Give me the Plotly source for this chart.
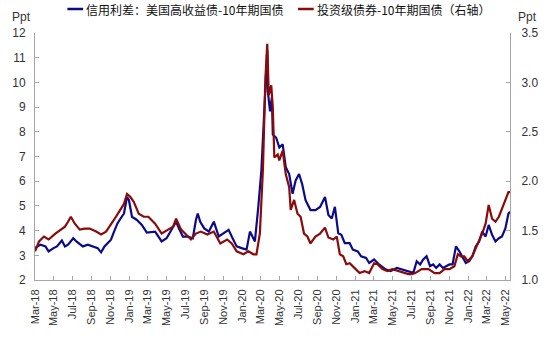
import plotly.graph_objects as go

# 信用利差：美国高收益债-10年期国债 (左轴, Ppt)
hy_dates = [
    "2018-03-01", "2018-03-19", "2018-04-04", "2018-04-14", "2018-04-30", "2018-05-11",
    "2018-05-27", "2018-06-06", "2018-06-16", "2018-07-03", "2018-07-13", "2018-08-03",
    "2018-08-19", "2018-09-04", "2018-09-20", "2018-10-01", "2018-10-12", "2018-10-22",
    "2018-11-02", "2018-11-12", "2018-11-23", "2018-12-03", "2018-12-14", "2018-12-24",
    "2018-12-30", "2019-01-09", "2019-01-25", "2019-02-10", "2019-02-26", "2019-03-25",
    "2019-04-15", "2019-05-01", "2019-05-16", "2019-06-01", "2019-06-12", "2019-06-23",
    "2019-07-09", "2019-07-25", "2019-08-04", "2019-08-10", "2019-08-18", "2019-08-31",
    "2019-09-15", "2019-10-01", "2019-10-17", "2019-11-02", "2019-11-18", "2019-11-28",
    "2019-12-14", "2019-12-30", "2020-01-15", "2020-01-26", "2020-02-11", "2020-02-22",
    "2020-03-03", "2020-03-13", "2020-03-22", "2020-03-24", "2020-03-31", "2020-04-06",
    "2020-04-09", "2020-04-20", "2020-04-30", "2020-05-11", "2020-05-21", "2020-06-01",
    "2020-06-12", "2020-06-22", "2020-07-03", "2020-07-13", "2020-07-24", "2020-08-09",
    "2020-08-25", "2020-09-09", "2020-09-25", "2020-10-06", "2020-10-17", "2020-10-27",
    "2020-11-07", "2020-11-17", "2020-11-28", "2020-12-14", "2020-12-24", "2021-01-09",
    "2021-01-20", "2021-02-05", "2021-02-15", "2021-03-03", "2021-03-19", "2021-04-09",
    "2021-04-25", "2021-05-16", "2021-06-01", "2021-06-22", "2021-07-08", "2021-07-19",
    "2021-07-30", "2021-08-09", "2021-08-20", "2021-08-31", "2021-09-10", "2021-09-20",
    "2021-10-01", "2021-10-12", "2021-10-22", "2021-11-02", "2021-11-12", "2021-11-23",
    "2021-12-04", "2021-12-14", "2021-12-25", "2022-01-05", "2022-01-15", "2022-01-26",
    "2022-02-06", "2022-02-16", "2022-02-27", "2022-03-09", "2022-03-20", "2022-03-31",
    "2022-04-11", "2022-04-21", "2022-05-02", "2022-05-12", "2022-05-17",
]
hy_spread = [
    3.29, 3.43, 3.36, 3.16, 3.29, 3.36,
    3.60, 3.36, 3.43, 3.69, 3.56, 3.36,
    3.43, 3.36, 3.29, 3.12, 3.36, 3.49,
    3.63, 3.96, 4.29, 4.49, 4.69, 5.36,
    5.24, 4.56, 4.43, 4.23, 3.92, 3.96,
    3.56, 3.69, 4.03, 4.36, 4.03, 3.76,
    3.76, 3.69, 4.43, 4.69, 4.36, 4.09,
    3.96, 4.36, 3.76, 3.89, 4.03, 3.76,
    3.36, 3.29, 3.23, 3.96, 3.56, 4.96,
    6.43, 9.00, 11.30, 9.63, 8.83, 9.40,
    7.89, 7.76, 7.36, 7.49, 6.56, 6.29,
    5.49, 6.03, 6.29, 5.89, 5.23, 4.83,
    4.83, 4.96, 5.36, 4.63, 4.49, 4.96,
    3.89, 3.83, 3.49, 3.49, 3.23, 3.16,
    2.96, 2.89, 2.69, 2.83, 2.63, 2.43,
    2.36, 2.49, 2.43, 2.36, 2.29, 2.76,
    2.63, 2.83, 2.96, 2.56, 2.63, 2.49,
    2.63, 2.49, 2.56, 2.63, 2.63, 3.36,
    3.16, 2.96, 2.69, 2.76, 2.96, 3.36,
    3.56, 3.96, 3.76, 4.23, 3.83, 3.56,
    3.69, 3.76, 4.09, 4.69, 4.76,
]

# 投资级债券-10年期国债 (右轴, Ppt)
ig_dates = [
    "2018-03-01", "2018-03-14", "2018-03-30", "2018-04-14", "2018-05-06", "2018-05-22",
    "2018-06-06", "2018-06-16", "2018-06-25", "2018-07-08", "2018-07-24", "2018-08-09",
    "2018-08-25", "2018-09-15", "2018-10-01", "2018-10-17", "2018-11-02", "2018-11-12",
    "2018-11-28", "2018-12-14", "2018-12-24", "2019-01-04", "2019-01-15", "2019-01-31",
    "2019-02-16", "2019-03-03", "2019-03-25", "2019-04-15", "2019-05-06", "2019-05-22",
    "2019-06-01", "2019-06-17", "2019-07-03", "2019-07-19", "2019-08-04", "2019-08-20",
    "2019-09-10", "2019-10-01", "2019-10-22", "2019-11-13", "2019-11-28", "2019-12-14",
    "2020-01-05", "2020-01-21", "2020-02-06", "2020-02-16", "2020-02-27", "2020-03-08",
    "2020-03-16", "2020-03-22", "2020-03-27", "2020-04-04", "2020-04-09", "2020-04-14",
    "2020-04-25", "2020-04-30", "2020-05-11", "2020-05-21", "2020-06-01", "2020-06-06",
    "2020-06-17", "2020-06-28", "2020-07-08", "2020-07-19", "2020-07-30", "2020-08-09",
    "2020-08-25", "2020-09-09", "2020-09-25", "2020-10-06", "2020-10-22", "2020-11-02",
    "2020-11-12", "2020-11-23", "2020-12-03", "2020-12-14", "2020-12-30", "2021-01-15",
    "2021-01-31", "2021-02-15", "2021-03-03", "2021-03-14", "2021-03-30", "2021-04-15",
    "2021-05-01", "2021-05-22", "2021-06-12", "2021-06-22", "2021-07-03", "2021-07-14",
    "2021-08-04", "2021-08-26", "2021-09-15", "2021-10-01", "2021-10-17", "2021-11-02",
    "2021-11-18", "2021-11-29", "2021-12-09", "2021-12-20", "2021-12-31", "2022-01-15",
    "2022-01-26", "2022-02-06", "2022-02-16", "2022-02-27", "2022-03-09", "2022-03-20",
    "2022-03-31", "2022-04-11", "2022-04-21", "2022-05-02", "2022-05-12", "2022-05-17",
]
ig_spread = [
    1.29, 1.39, 1.44, 1.41, 1.47, 1.51,
    1.54, 1.59, 1.64, 1.57, 1.51, 1.52,
    1.52, 1.49, 1.46, 1.49, 1.56, 1.61,
    1.69, 1.77, 1.87, 1.84, 1.79, 1.67,
    1.64, 1.64, 1.57, 1.47, 1.51, 1.54,
    1.62, 1.51, 1.46, 1.41, 1.47, 1.49,
    1.46, 1.49, 1.37, 1.41, 1.37, 1.29,
    1.26, 1.29, 1.26, 1.26, 1.47, 2.12,
    3.04, 3.39, 2.87, 2.97, 2.74, 2.24,
    2.27, 2.21, 2.31, 2.07, 1.94, 1.71,
    1.81, 1.67, 1.64, 1.47, 1.44, 1.37,
    1.44, 1.47, 1.53, 1.43, 1.41, 1.44,
    1.26, 1.24, 1.16, 1.17, 1.12, 1.07,
    1.09, 1.07, 1.17, 1.16, 1.11, 1.09,
    1.11, 1.09, 1.07, 1.06, 1.06, 1.07,
    1.11, 1.11, 1.07, 1.07, 1.11, 1.11,
    1.14, 1.26, 1.24, 1.24, 1.19, 1.24,
    1.32, 1.39, 1.47, 1.57, 1.76, 1.62,
    1.59, 1.64, 1.72, 1.79, 1.89, 1.89,
]

HY_NAME = "信用利差：美国高收益债-10年期国债"
IG_NAME = "投资级债券-10年期国债（右轴）"
HY_COLOR = "#0B0B8A"
IG_COLOR = "#8B0A0A"
AXIS_COLOR = "#A6A6A6"
NUM_FONT = "Liberation Sans, Arial, sans-serif"
CJK_FONT = "Noto Sans CJK SC, sans-serif"

fig = go.Figure()
fig.add_trace(go.Scatter(
    x=hy_dates, y=hy_spread, name=HY_NAME, mode="lines",
    line=dict(color=HY_COLOR, width=2.2), yaxis="y",
))
fig.add_trace(go.Scatter(
    x=ig_dates, y=ig_spread, name=IG_NAME, mode="lines",
    line=dict(color=IG_COLOR, width=2.2), yaxis="y2",
))

axis_common = dict(
    showline=True, linecolor=AXIS_COLOR, linewidth=1,
    ticks="inside", ticklen=4, tickcolor=AXIS_COLOR,
    showgrid=False, zeroline=False,
    tickfont=dict(family=NUM_FONT, size=12, color="#333333"),
)

fig.update_layout(
    width=550, height=338,
    margin=dict(l=29, r=37, t=33, b=54),
    paper_bgcolor="white", plot_bgcolor="white",
    showlegend=False,
    xaxis=dict(
        **{**axis_common, "tickfont": dict(family=NUM_FONT, size=11, color="#333333")},
        type="date",
        range=["2018-03-01", "2022-05-17"],
        tick0="2018-03-01", dtick="M2",
        tickformat="%b-%y", tickangle=-90,
        ticklabelstandoff=4,
    ),
    yaxis=dict(
        **axis_common,
        range=[2, 12], dtick=1, tick0=2,
        ticklabelstandoff=6,
    ),
    yaxis2=dict(
        **axis_common,
        overlaying="y", side="right",
        range=[1.0, 3.5], dtick=0.5, tick0=1.0, tickformat=".1f",
        ticklabelstandoff=8,
    ),
)

# Unit labels above both value axes
for xpos in [-0.052, 1.012]:
    fig.add_annotation(
        xref="paper", yref="paper", x=xpos, y=1.0, yshift=16,
        text="Ppt", showarrow=False, xanchor="left", yanchor="middle",
        font=dict(family=NUM_FONT, size=12, color="#333333"),
    )

# Legend drawn as short line swatches with text
legend_items = [(HY_NAME, HY_COLOR, 62), (IG_NAME, IG_COLOR, 297)]
for name, color, px in legend_items:
    x0 = (px - 29) / 484
    x1 = (px + 16 - 29) / 484
    fig.add_shape(
        type="line", xref="paper", yref="paper",
        x0=x0, x1=x1, y0=24, y1=24, ysizemode="pixel", yanchor=1.0,
        line=dict(color=color, width=2.5),
    )
    fig.add_annotation(
        xref="paper", yref="paper", x=x1, y=1.0, yshift=24,
        text=name, showarrow=False, xanchor="left", yanchor="middle",
        xshift=1,
        font=dict(family=CJK_FONT, size=12, color="#111111"),
    )

fig.write_html("out.html")
